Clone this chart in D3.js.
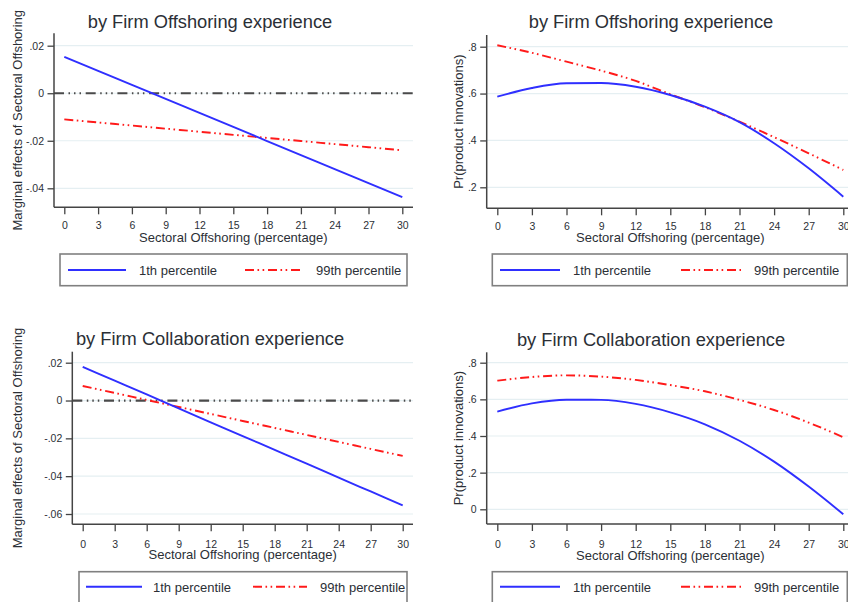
<!DOCTYPE html>
<html>
<head>
<meta charset="utf-8">
<script src="https://cdn.jsdelivr.net/npm/d3@7"></script>
<style>
  html, body { margin: 0; padding: 0; background: #fff; }
  svg { display: block; font-family: Arial, "Liberation Sans", sans-serif; }
</style>
</head>
<body>
<svg id="chart" width="848" height="602"></svg>
<script>
// Sectoral offshoring share (percentage) at which the margins are evaluated
const offshoring = [0, 3, 6, 9, 12, 15, 18, 21, 24, 27, 30];
const xTickValues = [0, 3, 6, 9, 12, 15, 18, 21, 24, 27, 30];
const seriesLabels = ["1th percentile", "99th percentile"];

// Marginal effects of sectoral offshoring, by firm offshoring experience
const meOffshoringP1  = [0.0153, 0.0094, 0.0035, -0.0024, -0.0083, -0.0142, -0.0201, -0.0260, -0.0319, -0.0378, -0.0437];
const meOffshoringP99 = [-0.0110, -0.0123, -0.0136, -0.0149, -0.0162, -0.0175, -0.0188, -0.0201, -0.0214, -0.0227, -0.0240];

// Pr(product innovations), by firm offshoring experience
const prOffshoringP1  = [0.587, 0.624, 0.644, 0.645, 0.629, 0.594, 0.544, 0.478, 0.388, 0.281, 0.160];
const prOffshoringP99 = [0.806, 0.774, 0.736, 0.698, 0.654, 0.597, 0.542, 0.480, 0.414, 0.345, 0.274];

// Marginal effects of sectoral offshoring, by firm collaboration experience
const meCollabP1  = [0.0178, 0.0105, 0.0032, -0.0042, -0.0115, -0.0188, -0.0261, -0.0334, -0.0408, -0.0481, -0.0554];
const meCollabP99 = [0.0077, 0.0040, 0.0003, -0.0034, -0.0071, -0.0108, -0.0145, -0.0182, -0.0219, -0.0256, -0.0293];

// Pr(product innovations), by firm collaboration experience
const prCollabP1  = [0.533, 0.578, 0.598, 0.597, 0.575, 0.529, 0.464, 0.374, 0.260, 0.124, -0.027];
const prCollabP99 = [0.702, 0.722, 0.731, 0.724, 0.706, 0.678, 0.644, 0.597, 0.542, 0.473, 0.393];

// Y-axis tick values
const meTicksTop    = [-0.04, -0.02, 0, 0.02];
const meTicksBottom = [-0.06, -0.04, -0.02, 0, 0.02];
const prTicksTop    = [0.2, 0.4, 0.6, 0.8];
const prTicksBottom = [0, 0.2, 0.4, 0.6, 0.8];

const titles = ["by Firm Offshoring experience", "by Firm Collaboration experience"];
const xTitle = "Sectoral Offshoring (percentage)";
const yTitleME = "Marginal effects of Sectoral Offshoring";
const yTitlePR = "Pr(product innovations)";

// Stata-style number labels: drop leading zero
const fmt = v => {
  if (Math.abs(v) < 1e-12) return "0";
  return String(+v.toFixed(2)).replace("0.", ".");
};

const BLUE = "#2f2fff";
const RED = "#ff1a1a";
const TEXT = "#2b2f36";
const RED_DASH = "9 3.5 1.6 3.5 1.6 3.8";

const panels = [
  { p1: meOffshoringP1, p99: meOffshoringP99, yDomain: [-0.04, 0.02], yTicks: meTicksTop, yTitle: yTitleME, title: titles[0], zeroLine: true,
    frame: { left: 54, right: 413, top: 33.3, bottom: 207.3 }, xRange: [64.3, 402.3], yRange: [188.3, 45.7],
    titleX: 210, titleY: 27.5, yTitleX: 22, tickY: 229.5, xTitleY: 241.5,
    legend: { x: 60, y: 254, w: 347, h: 31.7, lineY: 270, textY: 274.5, s1: [8, 66], t1: 79, s2: [185, 243], t2: 256 } },
  { p1: prOffshoringP1, p99: prOffshoringP99, yDomain: [0.2, 0.8], yTicks: prTicksTop, yTitle: yTitlePR, title: titles[0], zeroLine: false,
    frame: { left: 486.7, right: 860, top: 35, bottom: 208.3 }, xRange: [497.3, 843.3], yRange: [187.3, 46.7],
    titleX: 651, titleY: 27.5, yTitleX: 463.3, tickY: 230, xTitleY: 241.7,
    legend: { x: 492.3, y: 254, w: 355, h: 31.7, lineY: 270, textY: 274.5, s1: [7.7, 67.7], t1: 80.7, s2: [188.7, 248.7], t2: 261.7 } },
  { p1: meCollabP1, p99: meCollabP99, yDomain: [-0.06, 0.02], yTicks: meTicksBottom, yTitle: yTitleME, title: titles[1], zeroLine: true,
    frame: { left: 72.3, right: 413, top: 351.7, bottom: 524.3 }, xRange: [82.7, 402.7], yRange: [514, 362.7],
    titleX: 210, titleY: 345, yTitleX: 22, tickY: 547.7, xTitleY: 559.3,
    legend: { x: 79, y: 571.7, w: 328, h: 40, lineY: 586.7, textY: 591.5, s1: [7, 63], t1: 74, s2: [174, 228], t2: 241 } },
  { p1: prCollabP1, p99: prCollabP99, yDomain: [0, 0.8], yTicks: prTicksBottom, yTitle: yTitlePR, title: titles[1], zeroLine: false,
    frame: { left: 486.7, right: 860, top: 352.3, bottom: 524 }, xRange: [497.3, 843.3], yRange: [509.3, 362.7],
    titleX: 651, titleY: 345.5, yTitleX: 463.3, tickY: 548, xTitleY: 559.5,
    legend: { x: 492.3, y: 571.7, w: 355, h: 40, lineY: 586.7, textY: 591.5, s1: [7.7, 67.7], t1: 80.7, s2: [188.7, 248.7], t2: 261.7 } }
];

const svg = d3.select("#chart");

panels.forEach(p => {
  const g = svg.append("g");
  const f = p.frame;
  const x = d3.scaleLinear().domain([0, 30]).range(p.xRange);
  const y = d3.scaleLinear().domain(p.yDomain).range(p.yRange);

  // Horizontal gridlines
  g.append("g").selectAll("line").data(p.yTicks).join("line")
    .attr("x1", f.left).attr("x2", f.right)
    .attr("y1", d => y(d)).attr("y2", d => y(d))
    .attr("stroke", "#e5eff2").attr("stroke-width", 1.2);

  // Zero reference line
  if (p.zeroLine) {
    g.append("line")
      .attr("x1", f.left).attr("x2", f.right)
      .attr("y1", y(0)).attr("y2", y(0))
      .attr("stroke", "#4a4a4a").attr("stroke-width", 2.2)
      .attr("stroke-dasharray", "10 4.5 1.5 4 1.5 4 1.5 4.7");
  }

  // Axes
  const xAxis = d3.axisBottom(x).tickValues(xTickValues).tickSize(7).tickPadding(5).tickFormat(d3.format("d"));
  const xa = g.append("g").attr("transform", `translate(0,${f.bottom})`).call(xAxis);
  const yAxis = d3.axisLeft(y).tickValues(p.yTicks).tickSize(6.5).tickPadding(3.5).tickFormat(fmt);
  const ya = g.append("g").attr("transform", `translate(${f.left},0)`).call(yAxis);
  [xa, ya].forEach(a => {
    a.select(".domain").remove();
    a.selectAll(".tick line").attr("stroke", "#444").attr("stroke-width", 1.3);
    a.selectAll(".tick text").attr("fill", TEXT).style("font-size", "10.5px")
      .style("font-family", "Arial, 'Liberation Sans', sans-serif");
  });
  xa.selectAll(".tick text").attr("y", null).attr("dy", null)
    .attr("y", p.tickY - f.bottom);

  // Axis lines
  g.append("line").attr("x1", f.left).attr("x2", f.right).attr("y1", f.bottom).attr("y2", f.bottom)
    .attr("stroke", "#444").attr("stroke-width", 1.5);
  g.append("line").attr("x1", f.left).attr("x2", f.left).attr("y1", f.top).attr("y2", f.bottom)
    .attr("stroke", "#444").attr("stroke-width", 1.5);

  // Series lines
  const line = d3.line().x((d, i) => x(offshoring[i])).y(d => y(d)).curve(d3.curveMonotoneX);
  g.append("path").datum(p.p99).attr("d", line)
    .attr("fill", "none").attr("stroke", RED).attr("stroke-width", 1.9)
    .attr("stroke-dasharray", RED_DASH);
  g.append("path").datum(p.p1).attr("d", line)
    .attr("fill", "none").attr("stroke", BLUE).attr("stroke-width", 1.9);

  // Titles
  g.append("text").attr("x", p.titleX).attr("y", p.titleY).attr("text-anchor", "middle")
    .attr("fill", TEXT).style("font-size", "18.3px").text(p.title);
  g.append("text").attr("x", (p.xRange[0] + p.xRange[1]) / 2 + (f === panels[0].frame || f === panels[2].frame ? 0 : 0))
    .attr("y", p.xTitleY).attr("text-anchor", "middle")
    .attr("fill", TEXT).style("font-size", "13px").text(xTitle);
  g.append("text")
    .attr("transform", `translate(${p.yTitleX},${(f.top + f.bottom) / 2}) rotate(-90)`)
    .attr("text-anchor", "middle").attr("fill", TEXT).style("font-size", "13px").text(p.yTitle);

  // Legend
  const L = p.legend;
  const lg = g.append("g");
  lg.append("rect").attr("x", L.x).attr("y", L.y).attr("width", L.w).attr("height", L.h)
    .attr("fill", "#fff").attr("stroke", "#808080").attr("stroke-width", 1.6);
  lg.append("line").attr("x1", L.x + L.s1[0]).attr("x2", L.x + L.s1[1]).attr("y1", L.lineY).attr("y2", L.lineY)
    .attr("stroke", BLUE).attr("stroke-width", 1.9);
  lg.append("text").attr("x", L.x + L.t1).attr("y", L.textY).attr("fill", TEXT)
    .style("font-size", "13px").text(seriesLabels[0]);
  lg.append("line").attr("x1", L.x + L.s2[0]).attr("x2", L.x + L.s2[1]).attr("y1", L.lineY).attr("y2", L.lineY)
    .attr("stroke", RED).attr("stroke-width", 1.9).attr("stroke-dasharray", RED_DASH);
  lg.append("text").attr("x", L.x + L.t2).attr("y", L.textY).attr("fill", TEXT)
    .style("font-size", "13px").text(seriesLabels[1]);
});
</script>
</body>
</html>
